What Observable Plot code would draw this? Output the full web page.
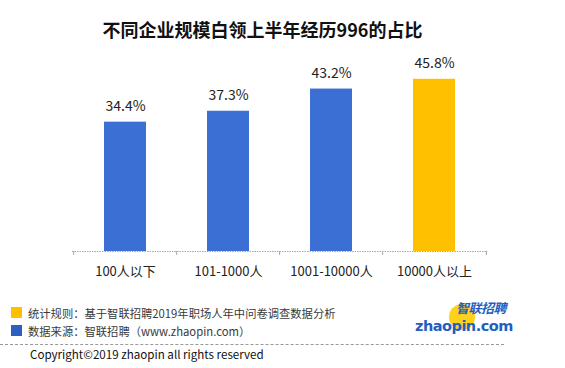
<!DOCTYPE html>
<html><head><meta charset="utf-8">
<script src="https://cdn.jsdelivr.net/npm/d3@7"></script>
<script src="https://cdn.jsdelivr.net/npm/@observablehq/plot@0.6"></script>
<style>
body{margin:0;background:#fff;font-family:"Noto Sans CJK SC","Noto Sans",sans-serif;}
#wrap{position:relative;width:565px;height:368px;overflow:hidden;background:#fff;}
#title{position:absolute;left:0;width:525px;top:16px;text-align:center;font-size:18px;font-weight:bold;color:#111;line-height:26px;}
#chart{position:absolute;left:0;top:0;}
.leg{position:absolute;left:28px;font-size:11.3px;color:#3a3a3a;line-height:16px;white-space:nowrap;}
.sw{position:absolute;left:11px;width:11px;height:11px;}
#dash{position:absolute;left:0;top:344px;width:504px;border-top:1px dashed #999;}
#copy{position:absolute;left:30px;top:346px;font-size:11.6px;color:#111;line-height:16px;}
#logo1{position:absolute;left:456px;top:301px;font-size:13px;line-height:14px;font-weight:bold;font-style:italic;color:#1f5fbf;letter-spacing:-0.5px;}
#logo2{position:absolute;left:415px;top:320px;font-size:14.5px;line-height:12px;font-weight:bold;color:#1f5fbf;font-family:"DejaVu Sans",sans-serif;letter-spacing:-0.5px;}
#dot{position:absolute;left:449px;top:304px;width:26px;height:26px;border-radius:50%;background:#ffd21a;}
</style></head>
<body>
<div id="wrap">
  <div id="title">不同企业规模白领上半年经历996的占比</div>
  <div id="chart"></div>
  <div class="sw" style="top:307px;background:#FFC000"></div>
  <div class="leg" style="top:305px">统计规则：基于智联招聘2019年职场人年中问卷调查数据分析</div>
  <div class="sw" style="top:325px;background:#2b5fc0"></div>
  <div class="leg" style="top:323px">数据来源：智联招聘（www.zhaopin.com）</div>
  <div id="dot"></div>
  <div id="logo1">智联招聘</div>
  <div id="logo2">zhaopin.com</div>
  <div id="dash"></div>
  <div id="copy">Copyright©2019 zhaopin all rights reserved</div>
</div>
<script>
const categories = ["100人以下", "101-1000人", "1001-10000人", "10000人以上"];
const values = [34.4, 37.3, 43.2, 45.8];
const highlight = [false, false, false, true];

const data = categories.map((c, i) => ({cat: c, value: values[i], hi: highlight[i]}));
const step = 415 / 4;

const chart = Plot.plot({
  width: 565,
  height: 300,
  marginLeft: 72,
  marginRight: 78,
  marginTop: 63,
  marginBottom: 49,
  style: {fontFamily: '"Noto Sans CJK SC","Noto Sans",sans-serif', background: "transparent"},
  x: {domain: categories, paddingInner: 0.595, paddingOuter: 0.2975, label: null},
  y: {domain: [0, 50], axis: null},
  marks: [
    Plot.barY(data, {x: "cat", y: "value", fill: d => d.hi ? "#FFC000" : "#3b6fd3"}),
    Plot.ruleY([0], {stroke: "#a8a8a8", strokeWidth: 1.2, strokeDasharray: "1.5,1"}),
    Plot.ruleX(categories, {x: d => d, y1: 0, y2: 0, insetBottom: -4, dx: -step / 2, stroke: "#a8a8a8"}),
    Plot.ruleX([categories[categories.length - 1]], {x: d => d, y1: 0, y2: 0, insetBottom: -4, dx: step / 2, stroke: "#a8a8a8"}),
    Plot.text(data, {x: "cat", y: "value", text: d => d.value.toFixed(1) + "%", dy: -16, fontSize: 14, fill: "#222"}),
    Plot.axisX({tickSize: 0, tickPadding: 15, fontSize: 13, fill: "#222", label: null})
  ]
});
document.getElementById("chart").appendChild(chart);
</script>
</body></html>
